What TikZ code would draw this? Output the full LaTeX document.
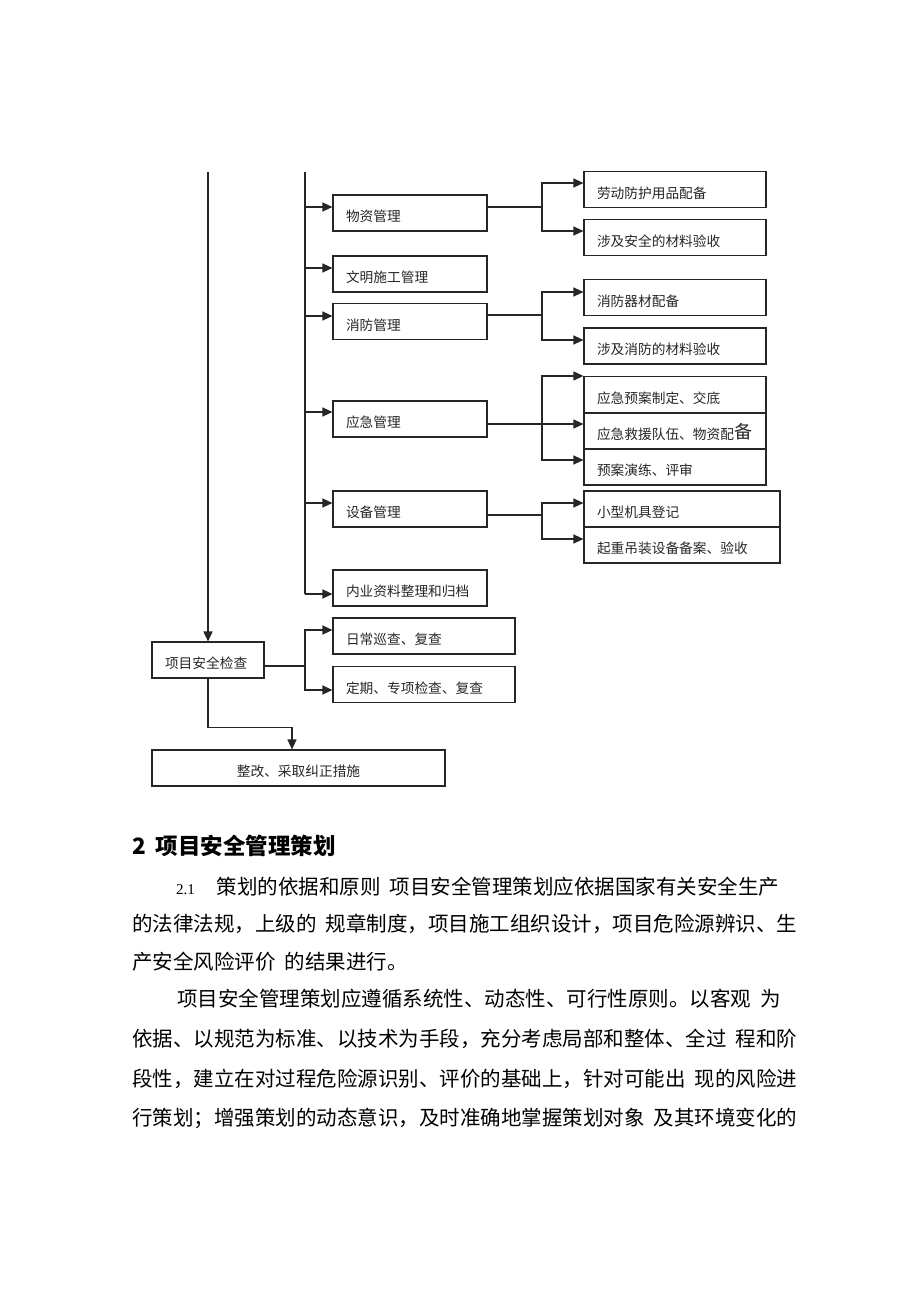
\documentclass[tikz,border=0pt]{standalone}
\usepackage{fontspec}
\setmainfont{Noto Sans CJK SC}
\newfontfamily\numfont{Liberation Serif}
\usetikzlibrary{arrows.meta}
\newcommand{\gap}{\hspace{9pt}}

\begin{document}
\begin{tikzpicture}[x=1pt,y=-1pt,
            box/.style={draw=black!85,line width=1.1pt,inner xsep=13pt,inner ysep=0pt,minimum height=36pt,
              text height=17pt,text depth=0pt,align=left,text=black!85,font=\fontsize{13.7}{14}\selectfont},
            conn/.style={draw=black!85,line width=1.1pt},
            arr/.style={conn,-{Triangle[length=10pt,width=9pt]}},
            spine/.style={draw=black!85,line width=1.6pt},
            body/.style={anchor=west,inner sep=0pt,font=\fontsize{20.5}{21}\selectfont}]
            \useasboundingbox (0,0) rectangle (920,1302);
            \coordinate (top1) at (208,172);
            \coordinate (top2) at (305,172);
            \coordinate (bx) at (542,172);
            \node [box,text width=128pt] (wz) at (410,213) {物资管理};
            \node [box,text width=128pt] (wm) at (410,274) {文明施工管理};
            \node [box,text width=128pt] (xf) at (410,321.5) {消防管理};
            \node [box,text width=128pt] (yj) at (410,419) {应急管理};
            \node [box,text width=128pt] (sb) at (410,509) {设备管理};
            \node [box,text width=128pt] (ny) at (410,588) {内业资料整理和归档};
            \node [box,text width=156pt] (lb) at (675,189.5) {劳动防护用品配备};
            \node [box,text width=156pt] (sa) at (675,237.5) {涉及安全的材料验收};
            \node [box,text width=156pt] (xq) at (675,297.5) {消防器材配备};
            \node [box,text width=156pt] (xc) at (675,346) {涉及消防的材料验收};
            \node [box,text width=156pt] (ya) at (675,394.5) {应急预案制定、交底};
            \node [box,text width=156pt] (yb) at (675,431) {应急救援队伍、物资配\raisebox{1.5pt}{\fontsize{18}{18}\selectfont 备}};
            \node [box,text width=156pt] (yc) at (675,467) {预案演练、评审};
            \node [box,text width=170pt] (sx) at (682,509) {小型机具登记};
            \node [box,text width=170pt] (sq) at (682,545) {起重吊装设备备案、验收};
            \node [box,text width=86pt] (jc) at (208,660) {项目安全检查};
            \node [box,text width=156pt] (rc) at (424,636) {日常巡查、复查};
            \node [box,text width=156pt] (dq) at (424,684.5) {定期、专项检查、复查};
            \node [box,text width=267pt,align=center] (zg) at (298.5,768) {整改、采取纠正措施};
            \draw [spine,-{Triangle[length=10pt,width=9pt]}] (top1) -- (jc.north);
            \draw [spine] (top2) -- ([yshift=-6pt]ny.west -| top2);
            \foreach \n/\s in {wz/6,wm/6,xf/5.5,yj/7,sb/6,ny/-6}
              \draw [arr] ([yshift=\s pt]\n.west -| top2) -- ([yshift=\s pt]\n.west);
            \draw [conn] ([yshift=6pt]wz.east) -- ([yshift=6pt]wz.east -| bx);
            \foreach \n in {lb,sa}
              \draw [arr] ([yshift=6pt]wz.east -| bx) |- ([yshift=6.5pt]\n.west);
            \draw [conn] ([yshift=6.5pt]xf.east) -- ([yshift=6.5pt]xf.east -| bx);
            \foreach \n/\s in {xq/5.5,xc/6}
              \draw [arr] ([yshift=6.5pt]xf.east -| bx) |- ([yshift=\s pt]\n.west);
            \draw [conn] ([yshift=-5pt]yj.east) -- ([yshift=-5pt]yj.east -| bx);
            \draw [arr] ([yshift=-5pt]yj.east -| bx) |- (ya.north west);
            \foreach \n in {yb,yc}
              \draw [arr] ([yshift=-5pt]yj.east -| bx) |- ([yshift=7pt]\n.west);
            \draw [conn] ([yshift=-6pt]sb.east) -- ([yshift=-6pt]sb.east -| bx);
            \foreach \n in {sx,sq}
              \draw [arr] ([yshift=-6pt]sb.east -| bx) |- ([yshift=6pt]\n.west);
            \draw [conn] ([yshift=-6pt]jc.east) -- ([yshift=-6pt]jc.east -| top2);
            \foreach \n/\s in {rc/6,dq/-5.5}
              \draw [arr] ([yshift=-6pt]jc.east -| top2) |- ([yshift=\s pt]\n.west);
            \draw [arr] (jc.south) -- ++(0,49) -| ([xshift=-6.5pt]zg.north);
            \node [body,font=\bfseries\fontsize{22.5}{23}\selectfont] (h2) at (132,846) {2\hspace{10pt}项目安全管理策划};
            \node [body] (p1) at (176,887) {{\numfont\fontsize{15}{15}\selectfont 2.1}\hspace{22pt}策划的依据和原则\gap 项目安全管理策划应依据国家有关安全生产};
            \node [body] (p2) at (132,924) {的法律法规，上级的\gap 规章制度，项目施工组织设计，项目危险源辨识、生};
            \node [body] (p3) at (132,962) {产安全风险评价\gap 的结果进行。};
            \node [body] (p4) at (177,999) {项目安全管理策划应遵循系统性、动态性、可行性原则。以客观\gap 为};
            \node [body] (p5) at (132,1039) {依据、以规范为标准、以技术为手段，充分考虑局部和整体、全过\gap 程和阶};
            \node [body] (p6) at (132,1079) {段性，建立在对过程危险源识别、评价的基础上，针对可能出\gap 现的风险进};
            \node [body] (p7) at (132,1118) {行策划；增强策划的动态意识，及时准确地掌握策划对象\gap 及其环境变化的};
            \end{tikzpicture}
\end{document}
